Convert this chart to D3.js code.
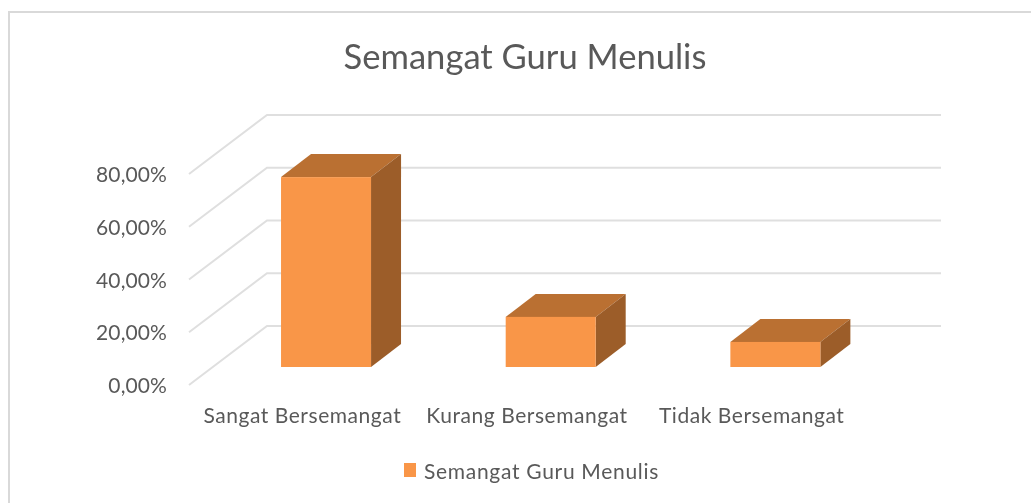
<!DOCTYPE html>
<html>
<head>
<meta charset="utf-8">
<script src="https://cdn.jsdelivr.net/npm/d3@7"></script>
<style>
  html, body { margin: 0; padding: 0; background: #fff; }
  svg { display: block; filter: blur(0.45px); }
  text { font-family: Lato, "Open Sans", sans-serif; fill: #595959; }
</style>
</head>
<body>
<svg id="chart" width="1031" height="503"></svg>
<script>
const categories = ["Sangat Bersemangat", "Kurang Bersemangat", "Tidak Bersemangat"];
const values = [72, 19, 9.5];
const yTicks = [0, 20, 40, 60, 80];
const seriesName = "Semangat Guru Menulis";

const width = 1031, height = 503;
const svg = d3.select("#chart");

// frame runs off the right and bottom of the picture
svg.append("rect")
    .attr("x", 9).attr("y", 12)
    .attr("width", width + 20).attr("height", height + 20)
    .attr("fill", "#fff")
    .attr("stroke", "#d9d9d9")
    .attr("stroke-width", 2);

const x = d3.scaleBand().domain(categories).range([189, 863]);
const y = d3.scaleLinear().domain([0, 80]).range([385, 174]);

// 3d offsets
const wallDx = 78, wallDy = -59;
const barDx = 30, barDy = -23;
const barW = 90, barShiftX = 24.7, barShiftY = -18;

//------------------GRID------------------
const line = d3.line();
svg.append("g")
    .selectAll("path")
    .data(yTicks)
    .join("path")
    .attr("d", (t) => line([
        [x.range()[0], y(t)],
        [x.range()[0] + wallDx, y(t) + wallDy],
        [x.range()[1] + wallDx, y(t) + wallDy]
    ]))
    .attr("fill", "none")
    .attr("stroke", "#dfdfdf")
    .attr("stroke-width", 2);

//------------------AXIS------------------
svg.append("g")
    .attr("transform", "translate(167,1)")
    .call(d3.axisLeft(y)
        .tickValues(yTicks)
        .tickSize(0)
        .tickPadding(0)
        .tickFormat((d) => d3.format(".2f")(d).replace(".", ",") + "%"))
    .call((g) => g.select(".domain").remove())
    .selectAll("text")
    .style("font-size", "21px")
    .style("letter-spacing", "0.1px");

svg.append("g")
    .selectAll("text")
    .data(categories)
    .join("text")
    .attr("x", (d) => x(d) + x.bandwidth() / 2 + 1)
    .attr("y", 423)
    .attr("text-anchor", "middle")
    .style("font-size", "21px")
    .style("letter-spacing", "0.55px")
    .text((d) => d);

//------------------BARS------------------
const bars = svg.append("g")
    .selectAll("g")
    .data(categories.map((c, i) => ({ label: c, value: values[i] })))
    .join("g")
    .attr("transform", (d) => `translate(${x(d.label) + (x.bandwidth() - barW) / 2 + barShiftX},${barShiftY})`);

bars.append("path")
    .attr("d", (d) => line([
        [0, y(d.value)],
        [barDx, y(d.value) + barDy],
        [barW + barDx, y(d.value) + barDy],
        [barW, y(d.value)]
    ]) + "Z")
    .attr("fill", "#ba7032");

bars.append("path")
    .attr("d", (d) => line([
        [barW, y(d.value)],
        [barW + barDx, y(d.value) + barDy],
        [barW + barDx, y(0) + barDy],
        [barW, y(0)]
    ]) + "Z")
    .attr("fill", "#9c5d29");

bars.append("rect")
    .attr("x", 0)
    .attr("y", (d) => y(d.value))
    .attr("width", barW)
    .attr("height", (d) => y(0) - y(d.value))
    .attr("fill", "#f99648");

//------------------TITLE + LEGEND------------------
svg.append("text")
    .attr("x", 525)
    .attr("y", 69)
    .attr("text-anchor", "middle")
    .style("font-size", "34.6px")
    .text(seriesName);

svg.append("rect")
    .attr("x", 404).attr("y", 463)
    .attr("width", 12).attr("height", 14)
    .attr("fill", "#f99648");

svg.append("text")
    .attr("x", 424)
    .attr("y", 479)
    .style("font-size", "21px")
    .style("letter-spacing", "0.7px")
    .text(seriesName);
</script>
</body>
</html>
